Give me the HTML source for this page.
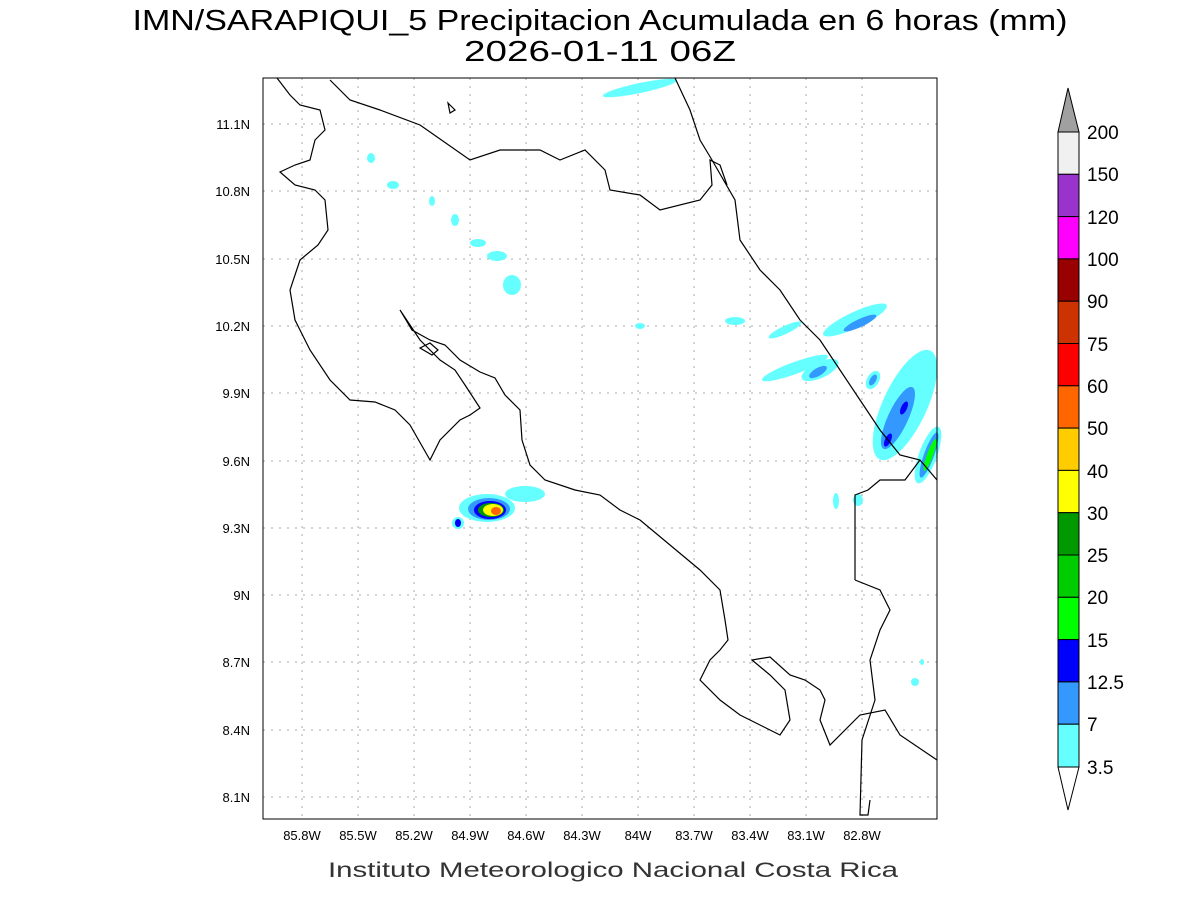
<!DOCTYPE html>
<html><head><style>
body{margin:0;background:#fff;}
svg text{font-family:"Liberation Sans",sans-serif;}
</style></head><body>
<svg width="1200" height="900" xmlns="http://www.w3.org/2000/svg">
<rect width="1200" height="900" fill="#fff"/>
<text x="600" y="30" font-size="29" text-anchor="middle" fill="#000" textLength="935" lengthAdjust="spacingAndGlyphs">IMN/SARAPIQUI_5 Precipitacion Acumulada en 6 horas (mm)</text>
<text x="600" y="61" font-size="29" text-anchor="middle" fill="#000" textLength="272" lengthAdjust="spacingAndGlyphs">2026-01-11 06Z</text>
<!-- grid -->
<g stroke="#aaa" stroke-dasharray="2,6" stroke-width="1">
<line x1="302" y1="78" x2="302" y2="819"/><line x1="358" y1="78" x2="358" y2="819"/><line x1="414" y1="78" x2="414" y2="819"/><line x1="470" y1="78" x2="470" y2="819"/><line x1="526" y1="78" x2="526" y2="819"/><line x1="582" y1="78" x2="582" y2="819"/><line x1="638" y1="78" x2="638" y2="819"/><line x1="694" y1="78" x2="694" y2="819"/><line x1="750" y1="78" x2="750" y2="819"/><line x1="806" y1="78" x2="806" y2="819"/><line x1="862" y1="78" x2="862" y2="819"/>
<line x1="263" y1="124" x2="937" y2="124"/><line x1="263" y1="191" x2="937" y2="191"/><line x1="263" y1="259" x2="937" y2="259"/><line x1="263" y1="326" x2="937" y2="326"/><line x1="263" y1="393" x2="937" y2="393"/><line x1="263" y1="461" x2="937" y2="461"/><line x1="263" y1="528" x2="937" y2="528"/><line x1="263" y1="595" x2="937" y2="595"/><line x1="263" y1="662" x2="937" y2="662"/><line x1="263" y1="730" x2="937" y2="730"/><line x1="263" y1="797" x2="937" y2="797"/>
</g>
<!-- precip -->
<g>
<ellipse cx="640" cy="88" rx="38" ry="5" fill="#66ffff" transform="rotate(-12 640 88)"/>
<ellipse cx="371" cy="158" rx="4" ry="5" fill="#66ffff"/>
<ellipse cx="393" cy="185" rx="6" ry="4" fill="#66ffff"/>
<ellipse cx="432" cy="201" rx="3" ry="5" fill="#66ffff"/>
<ellipse cx="455" cy="220" rx="4" ry="6" fill="#66ffff"/>
<ellipse cx="478" cy="243" rx="8" ry="4" fill="#66ffff"/>
<ellipse cx="497" cy="256" rx="10" ry="5" fill="#66ffff"/>
<ellipse cx="512" cy="285" rx="9" ry="10" fill="#66ffff"/>
<ellipse cx="640" cy="326" rx="5" ry="3" fill="#66ffff"/>
<ellipse cx="735" cy="321" rx="10" ry="4" fill="#66ffff"/>
<ellipse cx="785" cy="330" rx="18" ry="4" fill="#66ffff" transform="rotate(-25 785 330)"/>
<ellipse cx="855" cy="320" rx="35" ry="8" fill="#66ffff" transform="rotate(-25 855 320)"/>
<ellipse cx="860" cy="323" rx="18" ry="4" fill="#3399ff" transform="rotate(-25 860 323)"/>
<ellipse cx="795" cy="368" rx="35" ry="6" fill="#66ffff" transform="rotate(-20 795 368)"/>
<ellipse cx="820" cy="370" rx="20" ry="8" fill="#66ffff" transform="rotate(-25 820 370)"/>
<ellipse cx="818" cy="372" rx="10" ry="4" fill="#3399ff" transform="rotate(-30 818 372)"/>
<ellipse cx="873" cy="380" rx="6" ry="10" fill="#66ffff" transform="rotate(30 873 380)"/>
<ellipse cx="873" cy="380" rx="3" ry="6" fill="#3399ff" transform="rotate(30 873 380)"/>
<ellipse cx="905" cy="405" rx="22" ry="60" fill="#66ffff" transform="rotate(25 905 405)"/>
<ellipse cx="898" cy="418" rx="10" ry="34" fill="#3399ff" transform="rotate(25 898 418)"/>
<ellipse cx="904" cy="408" rx="3" ry="7" fill="#0000ff" transform="rotate(25 904 408)"/>
<ellipse cx="888" cy="440" rx="3" ry="7" fill="#0000ff" transform="rotate(25 888 440)"/>
<ellipse cx="928" cy="455" rx="9" ry="30" fill="#66ffff" transform="rotate(20 928 455)"/>
<ellipse cx="929" cy="455" rx="5" ry="24" fill="#3399ff" transform="rotate(20 929 455)"/>
<ellipse cx="930" cy="455" rx="3" ry="17" fill="#00ff00" transform="rotate(20 930 455)"/>
<ellipse cx="836" cy="501" rx="3" ry="8" fill="#66ffff"/>
<ellipse cx="858" cy="500" rx="5" ry="6" fill="#66ffff"/>
<ellipse cx="915" cy="682" rx="4" ry="4" fill="#66ffff"/>
<ellipse cx="922" cy="662" rx="2" ry="3" fill="#66ffff"/>
<ellipse cx="525" cy="494" rx="20" ry="8" fill="#66ffff"/>
<ellipse cx="487" cy="508" rx="28" ry="14" fill="#66ffff"/>
<ellipse cx="489" cy="509" rx="21" ry="11" fill="#3399ff"/>
<ellipse cx="490" cy="510" rx="16" ry="9" fill="#0000ff"/>
<ellipse cx="491" cy="510" rx="13" ry="7" fill="#009900"/>
<ellipse cx="493" cy="510" rx="10" ry="6" fill="#ffff00"/>
<ellipse cx="496" cy="511" rx="5" ry="4" fill="#ff6600"/>
<ellipse cx="458" cy="523" rx="6" ry="6" fill="#66ffff"/>
<ellipse cx="458" cy="523" rx="3" ry="4" fill="#0000ff"/>
</g>
<!-- coast -->
<g fill="none" stroke="#000" stroke-width="1.2">
<polyline points="277,78 290,95 300,105 320,110 325,130 315,140 310,160 295,165 280,172 295,185 315,190 325,200 328,230 318,245 300,260 290,290 295,320 310,350 330,380 350,400 375,402 395,410 410,425 430,460 440,440 460,420 470,415 480,408 465,385 455,370 440,360 420,340 410,325 400,310 412,330 430,340 445,345 460,360 480,372 495,378 505,395 520,410 522,440 530,465 545,480 575,490 600,495 620,510 640,520 670,545 700,570 720,590 725,620 728,640 720,650 710,660 700,680 720,700 740,715 780,735 790,720 785,690 770,675 752,660 770,657 790,675 805,680 820,690 825,700 820,720 830,745 860,715 885,710 900,735 937,760"/>
<polyline points="330,80 350,100 380,110 420,125 470,160 500,150 540,150 560,160 585,150 605,170 610,190 640,195 660,210 700,200 712,185 710,160 720,165 727,185"/>
<polyline points="675,78 690,110 700,140 712,160 735,200 740,240 760,270 780,290 800,320 820,340 840,370 860,400 880,430 900,455 920,460 937,480"/>
<polyline points="855,580 855,495 868,490 880,480 905,480 920,460"/>
<polyline points="855,580 880,590 890,610 880,630 870,660 875,700 862,740 860,815 868,815 870,800"/>
<polygon points="420,348 430,343 438,350 432,355"/>
<polygon points="448,103 455,110 450,113"/>
</g>
<rect x="263" y="78" width="674" height="741" fill="none" stroke="#000" stroke-width="1"/>
<!-- tick labels -->
<g font-size="13" text-anchor="middle" fill="#000">
<text x="302" y="840">85.8W</text><text x="358" y="840">85.5W</text><text x="414" y="840">85.2W</text><text x="470" y="840">84.9W</text><text x="526" y="840">84.6W</text><text x="582" y="840">84.3W</text><text x="638" y="840">84W</text><text x="694" y="840">83.7W</text><text x="750" y="840">83.4W</text><text x="806" y="840">83.1W</text><text x="862" y="840">82.8W</text>
</g>
<g font-size="13" text-anchor="end" fill="#000">
<text x="250" y="129">11.1N</text><text x="250" y="196">10.8N</text><text x="250" y="264">10.5N</text><text x="250" y="331">10.2N</text><text x="250" y="398">9.9N</text><text x="250" y="466">9.6N</text><text x="250" y="533">9.3N</text><text x="250" y="600">9N</text><text x="250" y="667">8.7N</text><text x="250" y="735">8.4N</text><text x="250" y="802">8.1N</text>
</g>
<text x="613" y="877" font-size="21" text-anchor="middle" fill="#333" textLength="570" lengthAdjust="spacingAndGlyphs">Instituto Meteorologico Nacional Costa Rica</text>
<!-- colorbar -->
<g stroke="#000" stroke-width="1">
<polygon points="1058,132 1068,88 1079,132" fill="#a0a0a0"/>
<rect x="1058" y="132" width="21" height="42.3" fill="#f0f0f0"/>
<rect x="1058" y="174.3" width="21" height="42.3" fill="#9933cc"/>
<rect x="1058" y="216.6" width="21" height="42.3" fill="#ff00ff"/>
<rect x="1058" y="258.9" width="21" height="42.3" fill="#990000"/>
<rect x="1058" y="301.2" width="21" height="42.3" fill="#cc3300"/>
<rect x="1058" y="343.5" width="21" height="42.3" fill="#ff0000"/>
<rect x="1058" y="385.8" width="21" height="42.3" fill="#ff6600"/>
<rect x="1058" y="428.1" width="21" height="42.3" fill="#ffcc00"/>
<rect x="1058" y="470.4" width="21" height="42.3" fill="#ffff00"/>
<rect x="1058" y="512.7" width="21" height="42.3" fill="#009900"/>
<rect x="1058" y="555" width="21" height="42.3" fill="#00cc00"/>
<rect x="1058" y="597.3" width="21" height="42.3" fill="#00ff00"/>
<rect x="1058" y="639.6" width="21" height="42.3" fill="#0000ff"/>
<rect x="1058" y="681.9" width="21" height="42.3" fill="#3399ff"/>
<rect x="1058" y="724.2" width="21" height="42.8" fill="#66ffff"/>
<polygon points="1058,767 1068,810 1079,767" fill="#fff"/>
</g>
<g font-size="19" fill="#000">
<text x="1087" y="139">200</text><text x="1087" y="181">150</text><text x="1087" y="224">120</text><text x="1087" y="266">100</text><text x="1087" y="308">90</text><text x="1087" y="351">75</text><text x="1087" y="393">60</text><text x="1087" y="435">50</text><text x="1087" y="478">40</text><text x="1087" y="520">30</text><text x="1087" y="562">25</text><text x="1087" y="604">20</text><text x="1087" y="647">15</text><text x="1087" y="689">12.5</text><text x="1087" y="731">7</text><text x="1087" y="774">3.5</text>
</g>
</svg>
</body></html>
